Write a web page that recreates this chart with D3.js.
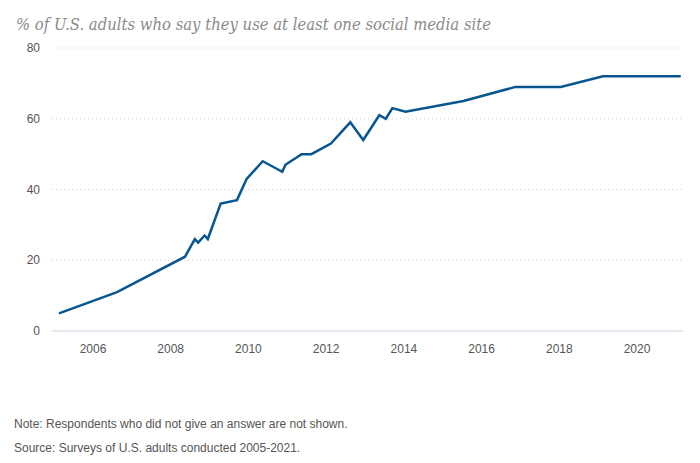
<!DOCTYPE html>
<html><head><meta charset="utf-8">
<script src="https://cdnjs.cloudflare.com/ajax/libs/d3/7.8.5/d3.min.js"></script>
<style>body{margin:0;background:#fff}svg{display:block}</style>
</head><body>
<svg id="c" width="700" height="463"></svg>
<script>
const dates = ["2005-02","2006-08","2008-05","2008-08","2008-09","2008-11","2008-12","2009-04","2009-09","2009-12","2010-05","2010-09","2010-11","2010-12","2011-05","2011-08","2012-02","2012-08","2012-12","2013-05","2013-07","2013-09","2014-01","2015-07","2016-11","2018-01","2019-02","2021-02"];
const values = [5,11,21,26,25,27,26,36,37,43,48,46,45,47,50,50,53,59,54,61,60,63,62,65,69,69,72,72];
const yTicks = [0,20,40,60,80];
const xTicks = [2006,2008,2010,2012,2014,2016,2018,2020];
const title = "% of U.S. adults who say they use at least one social media site";
const note = "Note: Respondents who did not give an answer are not shown.";
const source = "Source: Surveys of U.S. adults conducted 2005-2021.";

const parse = d3.timeParse("%Y-%m");
const data = dates.map((d,i)=>({date: d3.timeDay.offset(parse(d), 14), value: values[i]}));

const svg = d3.select("#c");
const x = d3.scaleTime().domain([new Date(2006,0,1), new Date(2020,0,1)]).range([93,637]);
const y = d3.scaleLinear().domain([0,80]).range([331,48]);
const left = 52, right = 683;

svg.append("text").attr("x",16).attr("y",30)
  .attr("font-family","'DejaVu Serif', 'Liberation Serif', serif").attr("font-style","italic")
  .attr("font-size",17).attr("fill","#8a8a8a")
  .attr("textLength",475).attr("lengthAdjust","spacingAndGlyphs")
  .text(title);

// gridlines
svg.append("g").selectAll("line").data(yTicks.filter(d=>d>0)).join("line")
  .attr("x1",left).attr("x2",right).attr("y1",d=>y(d)).attr("y2",d=>y(d))
  .attr("stroke","#d0d0d0").attr("stroke-width",1).attr("stroke-dasharray","1,3");
svg.append("line").attr("x1",left).attr("x2",right).attr("y1",y(0)).attr("y2",y(0))
  .attr("stroke","#c9d0e2").attr("stroke-width",1);

const tickFont = "'Liberation Sans', Arial, sans-serif";
svg.append("g").selectAll("text").data(yTicks).join("text")
  .attr("x",40).attr("y",d=>y(d)+4).attr("text-anchor","end")
  .attr("font-family",tickFont).attr("font-size",12).attr("fill","#555")
  .text(d=>d);
svg.append("g").selectAll("text").data(xTicks).join("text")
  .attr("x",d=>x(new Date(d,0,1))).attr("y",353).attr("text-anchor","middle")
  .attr("font-family",tickFont).attr("font-size",12).attr("fill","#555")
  .text(d=>d);

const line = d3.line().x(d=>x(d.date)).y(d=>y(d.value));
svg.append("path").datum(data).attr("d",line).attr("fill","none")
  .attr("stroke","#07568f").attr("stroke-width",2.5).attr("stroke-linejoin","miter");

svg.append("text").attr("x",14).attr("y",428).attr("font-family",tickFont)
  .attr("font-size",12).attr("fill","#555").text(note);
svg.append("text").attr("x",14).attr("y",452).attr("font-family",tickFont)
  .attr("font-size",12).attr("fill","#555").text(source);
</script>
</body></html>
